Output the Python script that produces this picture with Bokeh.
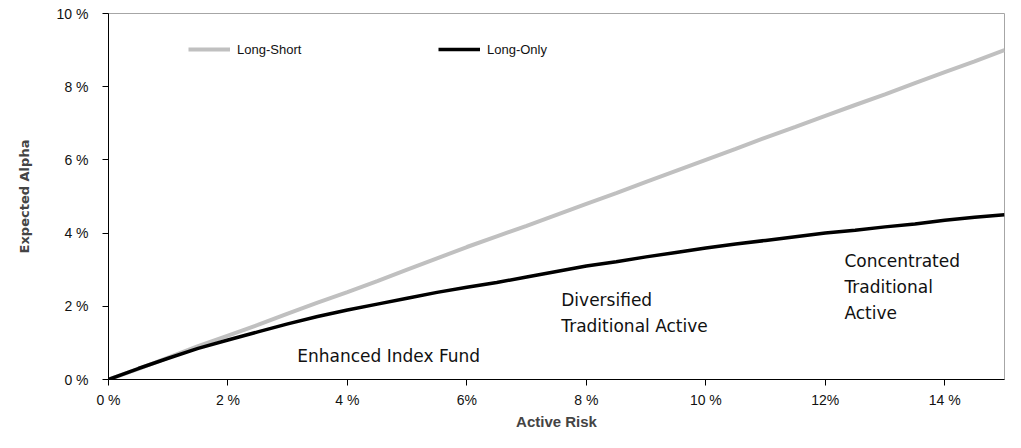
from bokeh.plotting import figure
from bokeh.models import Range1d, FixedTicker, Legend, LegendItem
from bokeh.core.properties import value
from bokeh.embed import file_html
from bokeh.resources import INLINE

# ---- data (percent) ----
active_risk = [0, 0.5, 1, 1.5, 2, 2.5, 3, 3.5, 4, 4.5, 5, 5.5, 6, 6.5, 7, 7.5,
               8, 8.5, 9, 9.5, 10, 10.5, 11, 11.5, 12, 12.5, 13, 13.5, 14, 14.5, 15]
long_short = [0, 0.29, 0.6, 0.91, 1.2, 1.49, 1.8, 2.1, 2.39, 2.69, 3.0, 3.31, 3.62,
              3.91, 4.2, 4.5, 4.8, 5.09, 5.4, 5.7, 6.0, 6.3, 6.61, 6.9, 7.2, 7.5,
              7.79, 8.1, 8.4, 8.69, 9.0]
long_only = [0, 0.3, 0.58, 0.85, 1.08, 1.3, 1.52, 1.72, 1.9, 2.06, 2.22, 2.38, 2.52,
             2.65, 2.8, 2.95, 3.1, 3.22, 3.35, 3.47, 3.59, 3.7, 3.8, 3.9, 4.0, 4.08,
             4.17, 4.25, 4.35, 4.43, 4.5]

x_ticks = [0, 2, 4, 6, 8, 10, 12, 14]
x_tick_labels = ["0 %", "2 %", "4 %", "6%", "8 %", "10 %", "12%", "14 %"]
y_ticks = [0, 2, 4, 6, 8, 10]
y_tick_labels = ["0 %", "2 %", "4 %", "6 %", "8 %", "10 %"]

region_labels = ["Enhanced Index Fund", "Diversified\nTraditional Active",
                 "Concentrated\nTraditional\nActive"]
region_x = [3.16, 7.58, 12.32]
region_y = [0.92, 2.45, 3.52]

p = figure(width=1005, height=432, output_backend="svg", toolbar_location=None,
           x_range=Range1d(0, 15), y_range=Range1d(0, 10),
           min_border_left=108, min_border_right=1, min_border_top=13,
           min_border_bottom=46)
p.background_fill_color = "white"
p.border_fill_color = "white"
p.outline_line_color = "#a6a6a6"
p.outline_line_width = 1
p.xgrid.visible = False
p.ygrid.visible = False

ls = p.line(active_risk, long_short, line_color="#c0c0c0", line_width=4)
lo = p.line(active_risk, long_only, line_color="black", line_width=3.5)

p.text(region_x, region_y, text=region_labels, text_font=value("DejaVu Sans"),
       text_font_size="17px", text_baseline="top", text_align="left",
       text_color="#111111", text_line_height=1.3)

for ax in (p.xaxis[0], p.yaxis[0]):
    ax.axis_line_color = "black"
    ax.axis_line_width = 1
    ax.major_tick_in = 0
    ax.major_tick_out = 6
    ax.minor_tick_line_color = None
    ax.major_label_text_font = "Liberation Sans"
    ax.major_label_text_font_size = "14px"
    ax.major_label_text_color = "#111111"

p.xaxis.ticker = FixedTicker(ticks=x_ticks)
p.xaxis.major_label_overrides = dict(zip(x_ticks, x_tick_labels))
p.yaxis.ticker = FixedTicker(ticks=y_ticks)
p.yaxis.major_label_overrides = dict(zip(y_ticks, y_tick_labels))
p.xaxis.major_label_standoff = 6
p.yaxis.major_label_standoff = 14

p.xaxis.axis_label = "Active Risk"
p.xaxis.axis_label_text_font = "Liberation Sans"
p.xaxis.axis_label_text_font_style = "bold"
p.xaxis.axis_label_text_font_size = "15px"
p.xaxis.axis_label_standoff = 2
p.yaxis.axis_label = "Expected Alpha"
p.yaxis.axis_label_text_font = "DejaVu Sans"
p.yaxis.axis_label_text_font_style = "bold"
p.yaxis.axis_label_text_font_size = "13px"
p.yaxis.axis_label_standoff = 22

leg1 = Legend(items=[LegendItem(label="Long-Short", renderers=[ls])],
              location=(80, 320))
leg2 = Legend(items=[LegendItem(label="Long-Only", renderers=[lo])],
              location=(330, 320))
for lg in (leg1, leg2):
    lg.border_line_color = None
    lg.background_fill_alpha = 0
    lg.padding = 0
    lg.margin = 0
    lg.glyph_width = 42
    lg.glyph_height = 20
    lg.label_standoff = 7
    lg.label_text_font = "Liberation Sans"
    lg.label_text_font_size = "13px"
    lg.label_text_color = "#111111"
    p.add_layout(lg)

open("out.html", "w").write(file_html(p, INLINE))
